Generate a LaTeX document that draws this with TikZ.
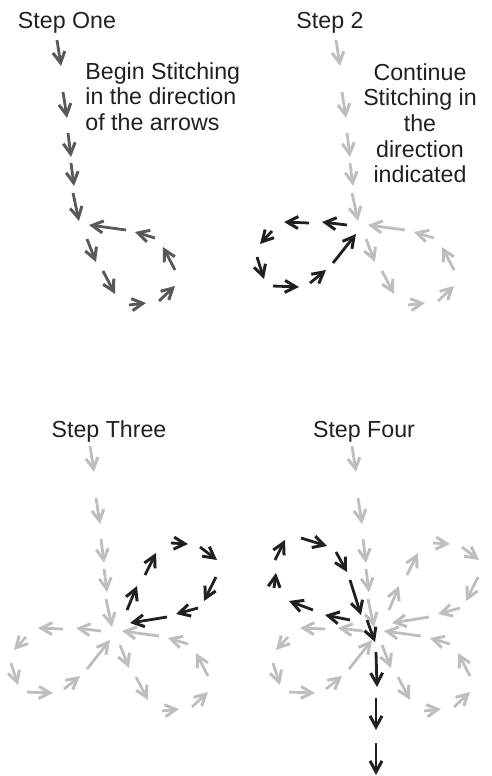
\documentclass[tikz,border=0pt]{standalone}
\usepackage{fontspec}
\setmainfont{Liberation Sans}
\usetikzlibrary{arrows.meta}

\definecolor{stitchdark}{RGB}{88,89,91}
\definecolor{stitchlight}{RGB}{188,190,192}
\definecolor{stitchblack}{RGB}{35,31,32}

% stitch arrows as x1/y1/x2/y2, measured in the frame of step one
\def\firstlist{57/40/61/66, 63/92/67/118, 68/133/71/157, 71/163/74/186, 73/193/79/221,
  87/239/96/262, 103/271/115/294, 129/305/146/303, 159/301/175/286,
  175/270/163/247, 155/238/135/232, 126/230/89/225}
\def\leftlist{68/225/43/222, 30/223/5/222, -7/231/-19/244, -22/257/-15/279,
  -6/286/20/287, 31/283/47/270, 54/263/77/234}
\def\upperlist{94/204/104/180, 112/169/123/147, 138/137/155/138, 167/141/184/154,
  183/171/171/195, 165/202/143/208, 134/211/97/217}
\def\lastlist{55/214/30/209, 18/204/-6/195, -21/182/-19/167, -20/154/-10/134,
  6/132/32/140, 41/146/52/166, 55/174/66/209, 72/214/80/236,
  81/246/82/281, 81/292/81/324, 81/337/81/369}

\begin{document}
\begin{tikzpicture}[x=0.5pt, y=-0.5pt,
    stitch/.style={line width=1.4pt,
      -{Straight Barb[length=5.5pt, width=6pt, line width=1.5pt]}},
    steptext/.style={font=\fontsize{11.6}{12.8}\selectfont, text=stitchblack, inner sep=0pt}]
  \useasboundingbox (0,0) rectangle (492,776);

  % headings and notes
  \node[steptext, anchor=base] (one) at (67,28) {Step One};
  \node[steptext, anchor=base] (two) at (330,28) {Step 2};
  \node[steptext, anchor=base] (three) at (109,437) {Step Three};
  \node[steptext, anchor=base] (four) at (364,437) {Step Four};
  \node[steptext, anchor=north west, align=left] (begin) at (85,62)
    {Begin Stitching\\in the direction\\of the arrows};
  \node[steptext, anchor=north, align=center] (continue) at (420,63)
    {Continue\\Stitching in\\the\\direction\\indicated};

  % stem and right loop
  \foreach \dx/\dy/\col in {0/0/stitchdark, 279/0/stitchlight, 33/406/stitchlight, 295/406/stitchlight}
    \foreach \a/\b/\c/\d in \firstlist
      \draw[stitch, \col, shift={(\dx,\dy)}] (\a,\b) -- (\c,\d);
  % left loop
  \foreach \dx/\dy/\col in {279/0/stitchblack, 33/406/stitchlight, 295/406/stitchlight}
    \foreach \a/\b/\c/\d in \leftlist
      \draw[stitch, \col, shift={(\dx,\dy)}] (\a,\b) -- (\c,\d);
  % upper right loop
  \foreach \dx/\dy/\col in {33/406/stitchblack, 295/406/stitchlight}
    \foreach \a/\b/\c/\d in \upperlist
      \draw[stitch, \col, shift={(\dx,\dy)}] (\a,\b) -- (\c,\d);
  % upper left loop and the way down
  \foreach \a/\b/\c/\d in \lastlist
    \draw[stitch, stitchblack, shift={(295,406)}] (\a,\b) -- (\c,\d);
\end{tikzpicture}
\end{document}
